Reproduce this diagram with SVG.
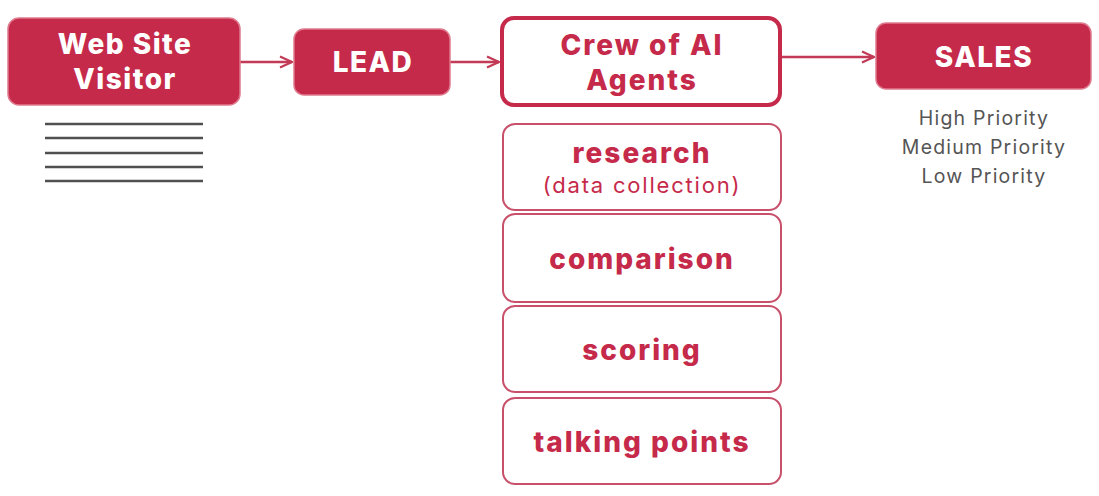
<svg xmlns="http://www.w3.org/2000/svg" width="1099" height="496" viewBox="0 0 1099 496">
  <defs>
    <marker id="arrow" viewBox="0 0 14 14" refX="13" refY="7" markerWidth="14" markerHeight="14" markerUnits="userSpaceOnUse" orient="auto">
      <path d="M1,1.5 L13,7 L1,12.5" fill="none" stroke="#c23a55" stroke-width="2.4" stroke-linejoin="miter"/>
    </marker>
  </defs>
  <style>
    .solid { fill: #c62a4a; stroke: #e07a8e; stroke-width: 1.5; }
    .crew { fill: #ffffff; stroke: #c62a4a; stroke-width: 4; }
    .step { fill: #ffffff; stroke: #c8506a; stroke-width: 2; }
    .wlabel { font-family: "Inter", "Open Sans", sans-serif; font-weight: 800; font-size: 28px; letter-spacing: 1.5px; fill: #ffffff; text-anchor: middle; }
    .rlabel { font-family: "Inter", "Open Sans", sans-serif; font-weight: 800; font-size: 28px; letter-spacing: 2px; fill: #c62a4a; text-anchor: middle; }
    .sub { font-family: "Inter", "Open Sans", sans-serif; font-weight: 400; font-size: 22px; letter-spacing: 1.8px; fill: #c62a4a; text-anchor: middle; }
    .prio { font-family: "Inter", "Open Sans", sans-serif; font-weight: 400; font-size: 19.5px; letter-spacing: 1.2px; fill: #555555; text-anchor: middle; }
    .rule { stroke: #505050; stroke-width: 2.5; }
    .edge { stroke: #c23a55; stroke-width: 2.5; fill: none; marker-end: url(#arrow); }
  </style>

  <g id="connectors">
    <line class="edge" x1="240" y1="62" x2="292" y2="62"/>
    <line class="edge" x1="450" y1="62" x2="499" y2="62"/>
    <line class="edge" x1="781" y1="57" x2="874" y2="57"/>
  </g>

  <g id="visitor">
    <rect class="solid" x="8" y="18" width="232" height="87" rx="11"/>
    <text class="wlabel" x="125" y="54">Web Site</text>
    <text class="wlabel" x="125" y="89">Visitor</text>
  </g>

  <g id="visitor-notes">
    <line class="rule" x1="45" y1="124" x2="203" y2="124"/>
    <line class="rule" x1="45" y1="138" x2="203" y2="138"/>
    <line class="rule" x1="45" y1="153" x2="203" y2="153"/>
    <line class="rule" x1="45" y1="167" x2="203" y2="167"/>
    <line class="rule" x1="45" y1="181" x2="203" y2="181"/>
  </g>

  <g id="lead">
    <rect class="solid" x="294" y="29" width="156" height="66" rx="10"/>
    <text class="wlabel" x="373" y="72">LEAD</text>
  </g>

  <g id="crew">
    <rect class="crew" x="502" y="18" width="278" height="87" rx="12"/>
    <text class="rlabel" x="642" y="55">Crew of AI</text>
    <text class="rlabel" x="642" y="90">Agents</text>
  </g>

  <g id="research">
    <rect class="step" x="503" y="124" width="278" height="86" rx="12"/>
    <text class="rlabel" x="642" y="163">research</text>
    <text class="sub" x="642" y="193">(data collection)</text>
  </g>

  <g id="comparison">
    <rect class="step" x="503" y="214" width="278" height="88" rx="12"/>
    <text class="rlabel" x="642" y="269">comparison</text>
  </g>

  <g id="scoring">
    <rect class="step" x="503" y="306" width="278" height="86" rx="12"/>
    <text class="rlabel" x="642" y="360">scoring</text>
  </g>

  <g id="talking-points">
    <rect class="step" x="503" y="398" width="278" height="86" rx="12"/>
    <text class="rlabel" x="642" y="452">talking points</text>
  </g>

  <g id="sales">
    <rect class="solid" x="876" y="23" width="215" height="66" rx="10"/>
    <text class="wlabel" x="984" y="67">SALES</text>
    <text class="prio" x="984" y="125">High Priority</text>
    <text class="prio" x="984" y="154">Medium Priority</text>
    <text class="prio" x="984" y="183">Low Priority</text>
  </g>
</svg>
